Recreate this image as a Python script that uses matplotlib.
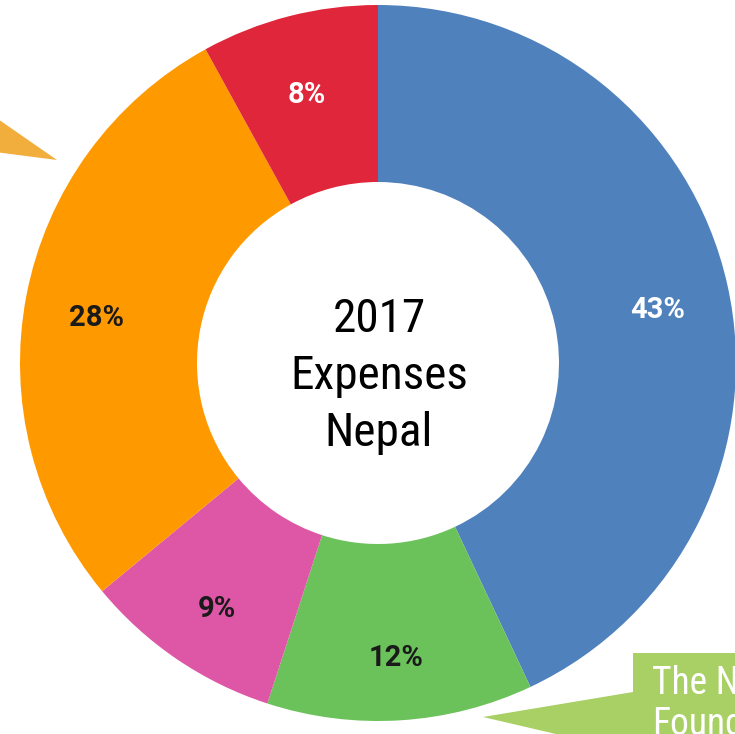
import matplotlib
matplotlib.use("Agg")
import matplotlib.pyplot as plt
from matplotlib.patches import Polygon, Rectangle

# ── data ──────────────────────────────────────────────────────────────────────
categories = ["Blue", "Green", "Pink", "Orange", "Red"]
shares     = [43, 12, 9, 28, 8]
colors     = ["#4F81BD", "#6BC25A", "#DD57A6", "#FF9900", "#E0263A"]
pct_colors = ["white", "#1a1a1a", "#1a1a1a", "#1a1a1a", "white"]

center_title = "2017\nExpenses\nNepal"
note_text    = "The Nepal\nFoundation"

W, H = 735, 734
CX, CY = 378, 371
R_OUT, R_IN = 358, 181
COND = ["Roboto Condensed", "Liberation Sans Narrow", "Roboto", "DejaVu Sans"]

fig = plt.figure(figsize=(W / 100, H / 100), dpi=100)
ax = fig.add_axes([0, 0, 1, 1])

wedges, _, autotexts = ax.pie(
    shares, colors=colors, startangle=90, counterclock=False,
    center=(CX, CY), radius=R_OUT, autopct="%.0f%%", pctdistance=0.8,
    wedgeprops=dict(width=R_OUT - R_IN, linewidth=0),
    textprops=dict(fontsize=21, fontweight="bold", family=["Roboto", "DejaVu Sans"]),
    frame=True,
)
ax.set_xlim(0, W)
ax.set_ylim(0, H)
ax.set_aspect("equal")
ax.axis("off")
for t, c in zip(autotexts, pct_colors):
    x, y = t.get_position()
    t.set_position((x, y - 9))
    t.set_color(c)

ax.text(CX + 1, CY - 13, center_title, ha="center", va="center",
        fontsize=34, linespacing=1.38, family=COND)

# ── callouts ──────────────────────────────────────────────────────────────────
ax.add_patch(Polygon([(-5, 617), (57, 574), (-5, 582)], closed=True,
                     facecolor="#F2AE3C", edgecolor="none", zorder=3))

ax.add_patch(Polygon([(633, 42), (483, 17), (633, -18)], closed=True,
                     facecolor="#A8D065", edgecolor="none", zorder=3))
ax.add_patch(Rectangle((633, -10), 120, 91, facecolor="#A8D065",
                       edgecolor="none", zorder=3))
ax.text(652, 69, note_text, ha="left", va="top", color="white",
        fontsize=27, linespacing=1.15, zorder=4, family=COND)

fig.savefig("out.png", dpi=100, facecolor="white")
